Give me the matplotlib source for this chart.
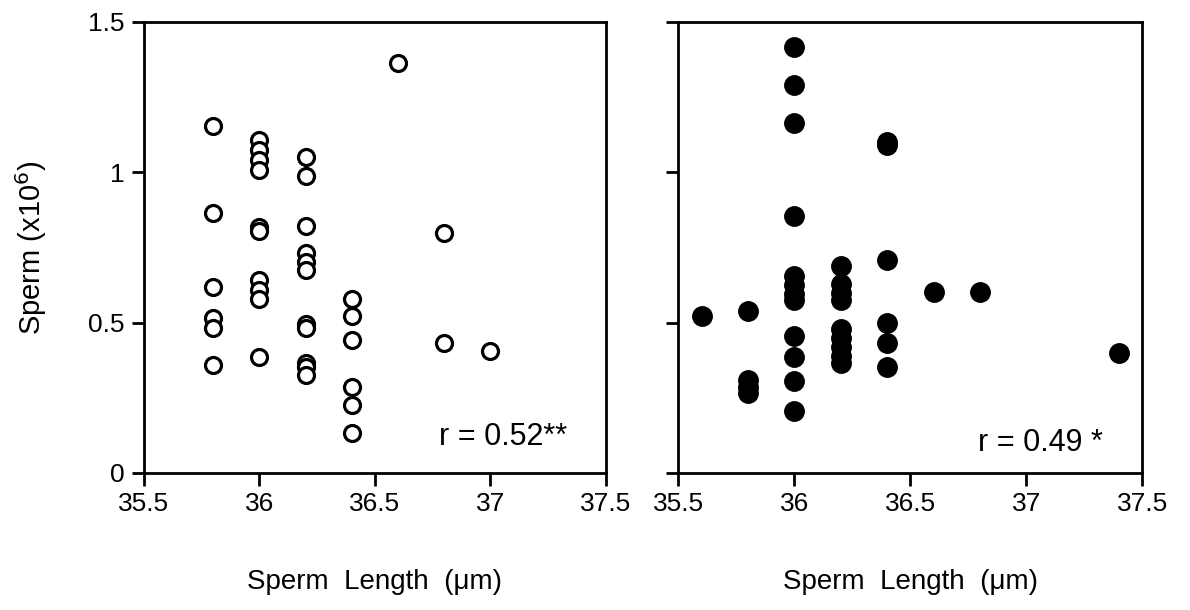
import matplotlib.pyplot as plt

plt.rcParams['font.family'] = ['Liberation Sans', 'DejaVu Sans']

# left panel (open circles)
x_open = [35.8, 35.8, 35.8, 35.8, 35.8, 35.8,
          36.0, 36.0, 36.0, 36.0, 36.0, 36.0, 36.0, 36.0, 36.0, 36.0,
          36.2, 36.2, 36.2, 36.2, 36.2, 36.2, 36.2, 36.2, 36.2, 36.2, 36.2,
          36.4, 36.4, 36.4, 36.4, 36.4, 36.4,
          36.6, 36.8, 36.8, 37.0]
y_open = [1.154, 0.866, 0.62, 0.515, 0.482, 0.359,
          1.107, 1.075, 1.04, 1.008, 0.818, 0.805, 0.642, 0.609, 0.578, 0.386,
          1.051, 0.988, 0.821, 0.733, 0.703, 0.675, 0.495, 0.482, 0.366, 0.353, 0.326,
          0.579, 0.522, 0.442, 0.287, 0.226, 0.133,
          1.362, 0.798, 0.432, 0.406]

# right panel (filled circles)
x_fill = [35.6,
          35.8, 35.8, 35.8, 35.8,
          36.0, 36.0, 36.0, 36.0, 36.0, 36.0, 36.0, 36.0, 36.0, 36.0, 36.0, 36.0,
          36.2, 36.2, 36.2, 36.2, 36.2, 36.2, 36.2, 36.2, 36.2,
          36.4, 36.4, 36.4, 36.4, 36.4, 36.4,
          36.6, 36.8, 37.4]
y_fill = [0.523,
          0.539, 0.309, 0.285, 0.265,
          1.416, 1.289, 1.165, 0.855, 0.655, 0.625, 0.595, 0.575, 0.456, 0.387, 0.307, 0.207,
          0.69, 0.63, 0.60, 0.575, 0.48, 0.45, 0.42, 0.39, 0.365,
          1.10, 1.09, 0.708, 0.50, 0.432, 0.354,
          0.603, 0.603, 0.40]

xticks = [35.5, 36, 36.5, 37, 37.5]
xtick_labels = ['35.5', '36', '36.5', '37', '37.5']
yticks = [0, 0.5, 1, 1.5]
ytick_labels = ['0', '0.5', '1', '1.5']

fig = plt.figure(figsize=(11.9, 6.1), dpi=100)
ax1 = fig.add_axes([0.121, 0.2246, 0.388, 0.7394])
ax2 = fig.add_axes([0.570, 0.2246, 0.390, 0.7394])

ax1.plot(x_open, y_open, 'o', ms=11.5, mfc='white', mec='black', mew=2.3, ls='none', clip_on=False)
ax2.plot(x_fill, y_fill, 'o', ms=14, mfc='black', mec='black', ls='none', clip_on=False)

for ax in (ax1, ax2):
    ax.set_xlim(35.5, 37.5)
    ax.set_ylim(0, 1.5)
    ax.set_xticks(xticks)
    ax.set_xticklabels(xtick_labels)
    ax.set_yticks(yticks)
    ax.tick_params(direction='out', length=9, width=2, labelsize=19, pad=5)
    for s in ax.spines.values():
        s.set_linewidth(2)
    ax.set_xlabel('Sperm  Length  (\u03bcm)', fontsize=20, labelpad=38)

ax1.set_yticklabels(ytick_labels)
ax2.set_yticklabels([])
ax1.set_ylabel('Sperm (x10$^6$)', fontsize=21, labelpad=28)

ax1.text(0.916, 0.08, 'r = 0.52**', transform=ax1.transAxes, ha='right', va='center', fontsize=22)
ax2.text(0.914, 0.066, 'r = 0.49 *', transform=ax2.transAxes, ha='right', va='center', fontsize=22)

fig.savefig('out.png', dpi=100)
